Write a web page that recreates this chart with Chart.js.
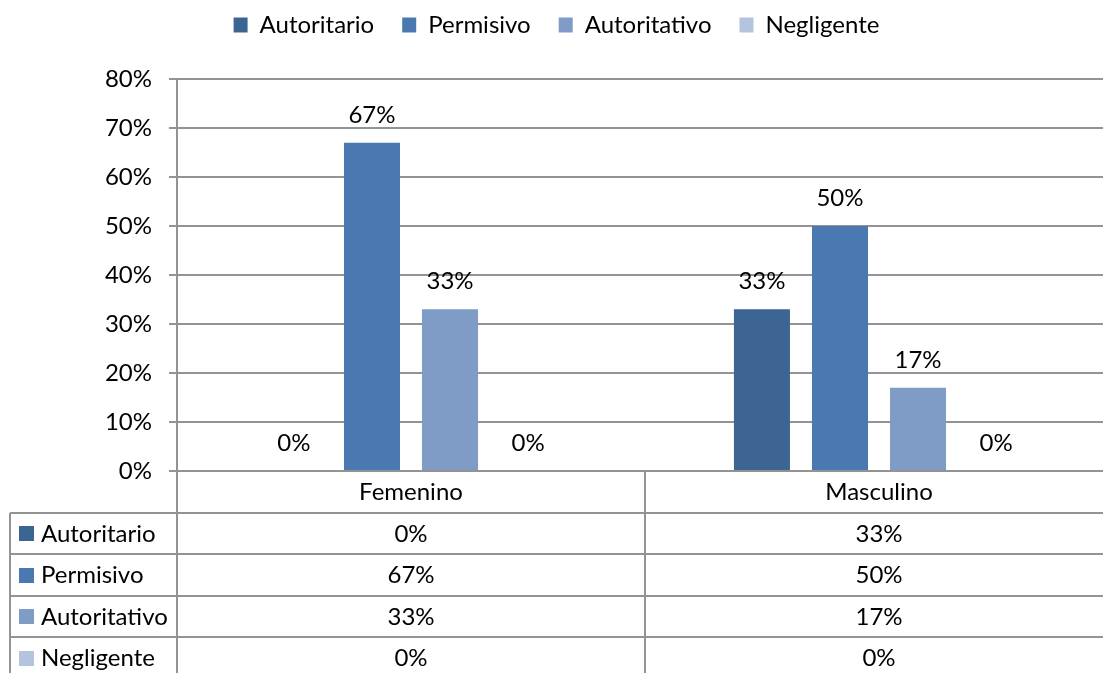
<!DOCTYPE html>
<html lang="es">
<head>
<meta charset="utf-8">
<title>Estilos por género</title>
<script src="https://cdn.jsdelivr.net/npm/chart.js@4/dist/chart.umd.min.js"></script>
<style>
  html, body { margin: 0; padding: 0; background: #fff; overflow: hidden; }
  canvas { display: block; }
</style>
</head>
<body>
<canvas id="chart" width="1113" height="673"></canvas>
<script>
const categories = ["Femenino", "Masculino"];
const seriesNames = ["Autoritario", "Permisivo", "Autoritativo", "Negligente"];
const autoritario = [0, 33];
const permisivo = [67, 50];
const autoritativo = [33, 17];
const negligente = [0, 0];
const yMax = 80;
const yStep = 10;

const colors = ["#3d6594", "#4a78b0", "#7f9cc7", "#b4c3de"];
const gridColor = "#939393";
const fontFamily = 'Lato, "Open Sans", sans-serif';
const fontSize = 24;
const rowHeight = 41.5;
const tableLeft = 10;

Chart.defaults.color = "#000";
Chart.defaults.font.family = fontFamily;
Chart.defaults.font.size = fontSize;

function line(ctx, x1, y1, x2, y2) {
  ctx.beginPath();
  ctx.moveTo(x1, y1);
  ctx.lineTo(x2, y2);
  ctx.stroke();
}

// legend taller than its text, so the plot starts lower
const legendFit = {
  id: "legendFit",
  afterInit(chart) {
    const legend = chart.legend;
    const fit = legend.fit.bind(legend);
    legend.fit = function () {
      fit();
      this.height = 79;
    };
  },
  afterLayout(chart) {
    chart.legend.top = -15;
  },
};

const dataLabels = {
  id: "dataLabels",
  afterDatasetsDraw(chart) {
    const { ctx } = chart;
    ctx.save();
    ctx.font = `${fontSize}px ${fontFamily}`;
    ctx.fillStyle = "#000";
    ctx.textAlign = "center";
    ctx.textBaseline = "alphabetic";
    chart.data.datasets.forEach((ds, i) => {
      chart.getDatasetMeta(i).data.forEach((bar, j) => {
        ctx.fillText(`${ds.data[j]}%`, bar.x, bar.y - 20);
      });
    });
    ctx.restore();
  },
};

const dataTable = {
  id: "dataTable",
  afterDraw(chart) {
    const { ctx, chartArea, scales } = chart;
    const x = scales.x;
    const top = chartArea.bottom;
    const right = chart.width;
    const bottom = chart.height;
    const mid = Math.round((x.getPixelForValue(0) + x.getPixelForValue(1)) / 2);
    ctx.save();
    ctx.strokeStyle = gridColor;
    ctx.lineWidth = 2;
    for (let r = 1; r <= seriesNames.length; r++) {
      const y = Math.round(top + r * rowHeight);
      line(ctx, tableLeft, y, right, y);
    }
    line(ctx, tableLeft, Math.round(top + rowHeight), tableLeft, bottom);
    line(ctx, chartArea.left, top, chartArea.left, bottom);
    line(ctx, mid, top, mid, bottom);

    ctx.font = `${fontSize}px ${fontFamily}`;
    ctx.textBaseline = "middle";
    ctx.fillStyle = "#000";
    ctx.textAlign = "center";
    categories.forEach((c, j) => {
      ctx.fillText(c, x.getPixelForValue(j), top + rowHeight / 2 + 1);
    });

    chart.data.datasets.forEach((ds, i) => {
      const cy = top + (i + 1) * rowHeight + rowHeight / 2;
      ctx.fillStyle = ds.backgroundColor;
      ctx.fillRect(19, Math.round(cy - 7), 15, 15);
      ctx.fillStyle = "#000";
      ctx.textAlign = "left";
      ctx.fillText(ds.label, 41, cy + 1);
      ctx.textAlign = "center";
      ds.data.forEach((v, j) => {
        ctx.fillText(`${v}%`, x.getPixelForValue(j), cy + 1);
      });
    });
    ctx.restore();
  },
};

const seriesData = [autoritario, permisivo, autoritativo, negligente];

new Chart(document.getElementById("chart"), {
  type: "bar",
  data: {
    labels: categories,
    datasets: seriesNames.map((name, i) => ({
      label: name,
      data: seriesData[i],
      backgroundColor: colors[i],
      borderWidth: 0,
      categoryPercentage: 0.667,
      barPercentage: 0.718,
    })),
  },
  options: {
    responsive: false,
    animation: false,
    layout: { padding: 0 },
    plugins: {
      legend: {
        position: "top",
        labels: {
          boxWidth: 14,
          boxHeight: 15,
          padding: 28,
          color: "#000",
          font: { size: fontSize },
        },
      },
      tooltip: { enabled: false },
    },
    scales: {
      x: {
        grid: { display: false },
        border: { display: true, color: gridColor, width: 2 },
        ticks: { display: false },
        afterFit: (scale) => {
          scale.height = 202;
        },
      },
      y: {
        min: 0,
        max: yMax,
        ticks: {
          stepSize: yStep,
          padding: 17,
          callback: (v) => `${v}%`,
        },
        grid: { color: gridColor, lineWidth: 2, tickLength: 8 },
        border: { color: gridColor, width: 2 },
        afterFit: (scale) => {
          scale.width = 177;
        },
      },
    },
  },
  plugins: [legendFit, dataLabels, dataTable],
});
</script>
</body>
</html>
